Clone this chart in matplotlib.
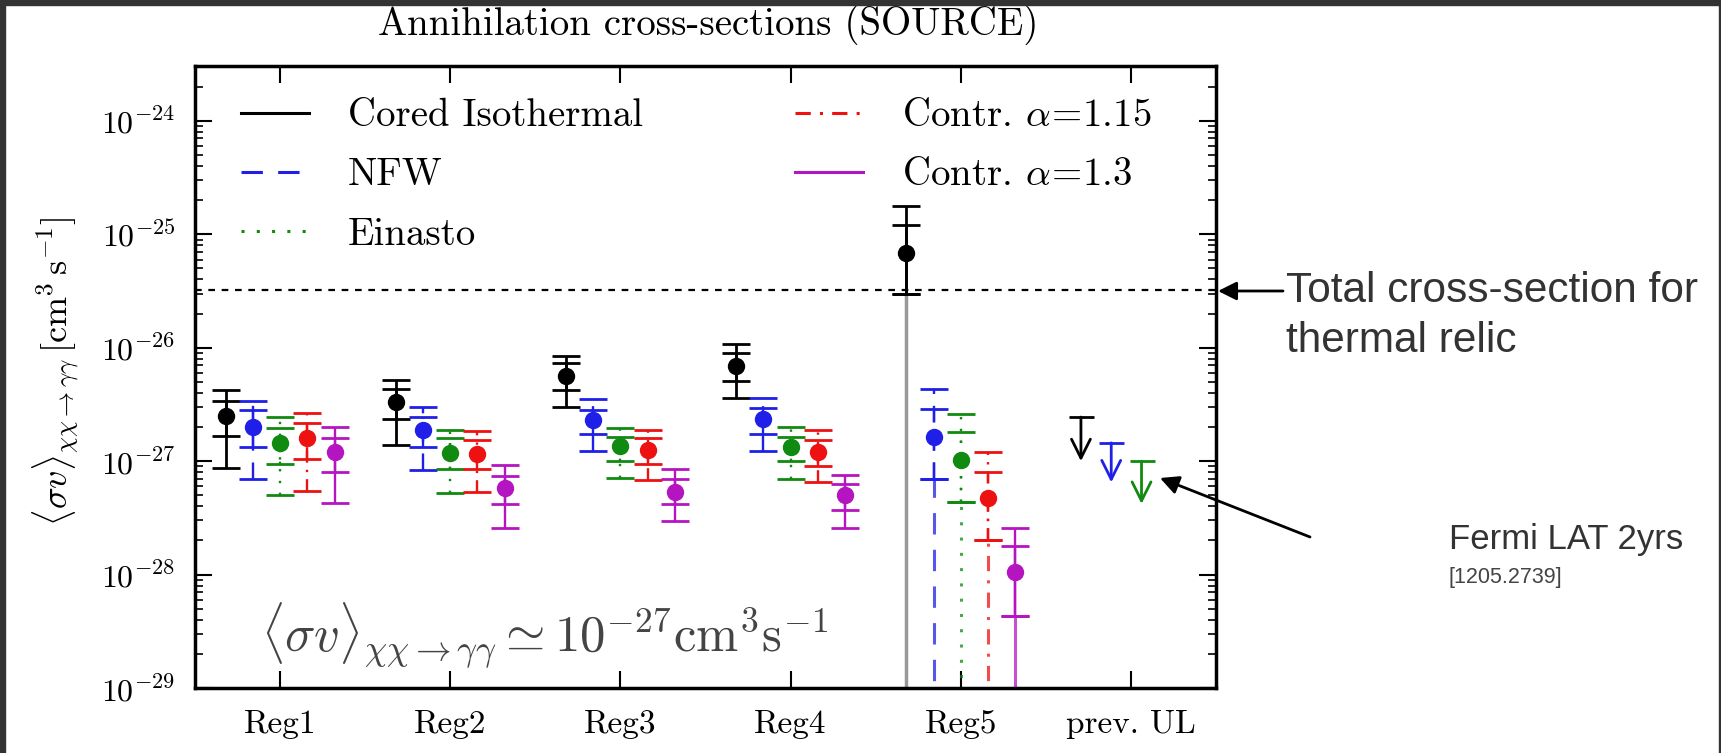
import numpy as np
import matplotlib
matplotlib.use('Agg')
import matplotlib.pyplot as plt
from matplotlib.lines import Line2D
from matplotlib.patches import Rectangle
from matplotlib.ticker import FixedLocator, FuncFormatter, NullFormatter, NullLocator

plt.rcParams['font.family'] = 'cmr10'
plt.rcParams['mathtext.fontset'] = 'cm'
plt.rcParams['axes.unicode_minus'] = False
plt.rcParams['axes.formatter.use_mathtext'] = True

regions = ['Reg1', 'Reg2', 'Reg3', 'Reg4', 'Reg5', 'prev. UL']
profiles = ['Cored Isothermal', 'NFW', 'Einasto',
            r'Contr. $\alpha\!=\!1.15$', r'Contr. $\alpha\!=\!1.3$']
colors = ['#000000', '#1f1fe8', '#108a10', '#ee1111', '#b515c0']
styles = ['-', (0, (7, 5)), (0, (1, 4)), (0, (5, 3, 1, 3)), '-']

# one row per profile, columns Reg1..Reg5  [cm^3 s^-1]
sv_mid = [[2.5e-27, 3.3e-27, 5.6e-27, 6.9e-27, 6.8e-26],
          [2.0e-27, 1.9e-27, 2.3e-27, 2.35e-27, 1.62e-27],
          [1.45e-27, 1.17e-27, 1.35e-27, 1.33e-27, 1.02e-27],
          [1.6e-27, 1.15e-27, 1.26e-27, 1.2e-27, 4.7e-28],
          [1.2e-27, 5.8e-28, 5.4e-28, 5.0e-28, 1.05e-28]]
sv_in_hi = [[3.4e-27, 4.3e-27, 7.4e-27, 8.9e-27, 1.2e-25],
            [2.85e-27, 2.45e-27, 2.8e-27, 2.95e-27, 2.9e-27],
            [1.95e-27, 1.6e-27, 1.65e-27, 1.65e-27, 1.8e-27],
            [2.15e-27, 1.55e-27, 1.6e-27, 1.55e-27, 8.1e-28],
            [1.6e-27, 7.4e-28, 6.9e-28, 6.3e-28, 1.8e-28]]
sv_in_lo = [[1.66e-27, 2.35e-27, 4.2e-27, 5.1e-27, 3.0e-26],
            [1.33e-27, 1.33e-27, 1.75e-27, 1.75e-27, 6.9e-28],
            [9.5e-28, 8.5e-28, 1.0e-27, 1.0e-27, 4.4e-28],
            [1.05e-27, 8.5e-28, 9.5e-28, 9.1e-28, 2.0e-28],
            [8.1e-28, 4.2e-28, 4.2e-28, 3.7e-28, 4.3e-29]]
sv_out_hi = [[4.2e-27, 5.2e-27, 8.5e-27, 1.07e-26, 1.78e-25],
             [3.4e-27, 3.0e-27, 3.5e-27, 3.6e-27, 4.3e-27],
             [2.45e-27, 1.9e-27, 1.95e-27, 2.0e-27, 2.6e-27],
             [2.65e-27, 1.85e-27, 1.9e-27, 1.9e-27, 1.2e-27],
             [2.0e-27, 9.3e-28, 8.5e-28, 7.6e-28, 2.6e-28]]
sv_out_lo = [[8.7e-28, 1.4e-27, 3.0e-27, 3.6e-27, 1e-31],
             [6.9e-28, 8.3e-28, 1.23e-27, 1.23e-27, 1e-31],
             [5.0e-28, 5.2e-28, 7.1e-28, 6.9e-28, 1e-31],
             [5.5e-28, 5.3e-28, 6.8e-28, 6.5e-28, 1e-31],
             [4.3e-28, 2.6e-28, 2.95e-28, 2.6e-28, 1e-31]]

# previous upper limits (Fermi LAT 2yrs): cap and arrow tip
ul_top = [2.45e-27, 1.45e-27, 1.0e-27]
ul_tip = [1.0e-27, 6.5e-28, 4.2e-28]

thermal = 3.2e-26
y_ticks = [1e-29, 1e-28, 1e-27, 1e-26, 1e-25, 1e-24]

W, H = 1721, 753
fig = plt.figure(figsize=(W / 100, H / 100), dpi=100)
ax = fig.add_axes([195 / W, 1 - 688 / H, (1216 - 195) / W, (688 - 66) / H])
ax.set_yscale('log')
ax.set_xlim(0.5, 6.5)
ax.set_ylim(1e-29, 3.05e-24)

dx = 0.16
for k in range(5):
    x = np.arange(1, 6) + (k - 2) * dx
    mid = np.array(sv_mid[k])
    ilo, ihi = np.array(sv_in_lo[k]), np.array(sv_in_hi[k])
    olo, ohi = np.array(sv_out_lo[k]), np.array(sv_out_hi[k])
    tail = olo < 1e-29
    olo_d = np.where(tail, ilo, olo)
    lw = 2.0 if k == 0 else 1.7
    eb = ax.errorbar(x, mid, yerr=[mid - olo_d, ohi - mid], fmt='o', color=colors[k],
                     ms=11.5, capsize=10, capthick=2, elinewidth=lw, zorder=3)
    eb[2][0].set_linestyle(styles[k])
    eb2 = ax.errorbar(x, mid, yerr=[mid - ilo, ihi - mid], fmt='none', ecolor=colors[k],
                      capsize=10, capthick=2, elinewidth=lw, zorder=3)
    eb2[2][0].set_linestyle(styles[k])
    if tail.any():
        tcol = '#777777' if k == 0 else colors[k]
        ax.vlines(x[tail], olo[tail], ilo[tail], colors=tcol, linestyles=styles[k],
                  lw=lw + 0.5, alpha=0.75, zorder=2)

ax.axhline(thermal, color='black', ls=(0, (3, 3)), lw=1.6, zorder=1)

ul_x = 6 + (np.arange(3) - 1.65) * 0.178
for i in range(3):
    ax.annotate('', xy=(ul_x[i], ul_tip[i]), xytext=(ul_x[i], ul_top[i]),
                arrowprops=dict(arrowstyle='->', color=colors[i], lw=2,
                                mutation_scale=34, shrinkA=0, shrinkB=0))
    ax.plot([ul_x[i]], [ul_top[i]], marker='_', ms=18, mew=2, color=colors[i])

ax.set_xticks(range(1, 7))
ax.set_xticklabels(regions)
ax.xaxis.set_minor_locator(NullLocator())
ax.yaxis.set_major_locator(FixedLocator(y_ticks))
minor = [m * t for t in y_ticks for m in range(2, 10)]
ax.yaxis.set_minor_locator(FixedLocator([v for v in minor if v < 3.05e-24]))
ax.yaxis.set_major_formatter(FuncFormatter(lambda v, p: r'$10^{%d}$' % round(np.log10(v))))
ax.yaxis.set_minor_formatter(NullFormatter())
ax.tick_params(axis='x', which='major', direction='in', top=True, length=12, width=1.5,
               pad=16, labelsize=24)
ax.tick_params(axis='y', which='major', direction='in', right=True, length=12, width=1.5,
               pad=14, labelsize=23)
ax.tick_params(axis='y', which='minor', direction='in', right=True, length=6, width=1.2)
for s in ax.spines.values():
    s.set_linewidth(2.5)

handles = [Line2D([], [], color=colors[k], ls=styles[k], lw=2.2) for k in range(5)]
ax.legend(handles, profiles, loc='upper left', bbox_to_anchor=(0.045, 0.948), ncol=2,
          frameon=False, fontsize=28, handlelength=1.75, handletextpad=1.0,
          columnspacing=3.9, labelspacing=0.6, borderaxespad=0, borderpad=0)

fig.text(708 / W, 1 - 25 / H, 'Annihilation cross-sections (SOURCE)', ha='center',
         va='center', fontsize=28)
fig.text(56 / W, 1 - 371 / H,
         r'$\langle\sigma v\rangle_{\chi\chi\to\gamma\gamma}\,[\mathrm{cm}^3\,\mathrm{s}^{-1}]$',
         rotation=90, ha='center', va='center', fontsize=26)
fig.text(261 / W, 1 - 636 / H,
         r'$\langle\sigma v\rangle_{\chi\chi\to\gamma\gamma} \simeq 10^{-27}\mathrm{cm}^3\mathrm{s}^{-1}$',
         ha='left', va='center', fontsize=36.5, color='#444444')

sans = 'Liberation Sans'
fig.text(1286 / W, 1 - 291 / H, 'Total cross-section for', family=sans, fontsize=30.5,
         ha='left', va='center', color='#333333')
fig.text(1286 / W, 1 - 341 / H, 'thermal relic', family=sans, fontsize=30.5,
         ha='left', va='center', color='#333333')
fig.text(1449 / W, 1 - 540 / H, 'Fermi LAT 2yrs', family=sans, fontsize=25,
         ha='left', va='center', color='#333333')
fig.text(1449 / W, 1 - 578 / H, '[1205.2739]', family=sans, fontsize=15.5,
         ha='left', va='center', color='#444444')

ax.annotate('', xy=(1218 / W, 1 - 291 / H), xytext=(1283 / W, 1 - 291 / H),
            xycoords='figure fraction', textcoords='figure fraction',
            arrowprops=dict(arrowstyle='-|>', color='black', lw=2, mutation_scale=28,
                            shrinkA=0, shrinkB=0))
ax.annotate('', xy=(1160 / W, 1 - 478 / H), xytext=(1310 / W, 1 - 537 / H),
            xycoords='figure fraction', textcoords='figure fraction',
            arrowprops=dict(arrowstyle='-|>', color='black', lw=2, mutation_scale=28,
                            shrinkA=0, shrinkB=0))

frame = '#333333'
fig.patches.extend([
    Rectangle((0, 0), 5 / W, 1, transform=fig.transFigure, color=frame, zorder=10),
    Rectangle((0, 1 - 5 / H), 1, 5 / H, transform=fig.transFigure, color=frame, zorder=10),
    Rectangle((1 - 2 / W, 0), 2 / W, 1, transform=fig.transFigure, color=frame, zorder=10),
])

fig.savefig('out.png', dpi=100)
